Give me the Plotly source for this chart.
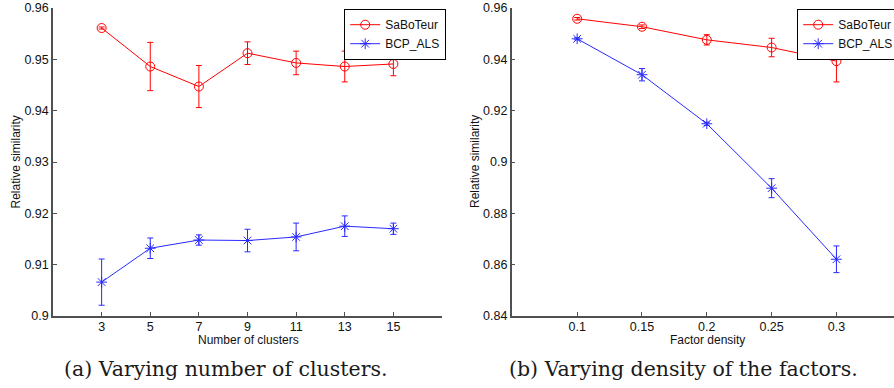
import plotly.graph_objects as go

# ---- data: (a) varying number of clusters ----
clusters = [3, 5, 7, 9, 11, 13, 15]
sab_a = [0.9561, 0.9486, 0.9447, 0.9512, 0.9493, 0.9486, 0.9491]
sab_a_err = [0.0002, 0.0047, 0.0041, 0.0022, 0.0023, 0.0030, 0.0023]
bcp_a = [0.9066, 0.9132, 0.9148, 0.9147, 0.9154, 0.9175, 0.9170]
bcp_a_err = [0.0045, 0.0020, 0.0010, 0.0022, 0.0027, 0.0020, 0.0011]

# ---- data: (b) varying density of the factors ----
density = [0.1, 0.15, 0.2, 0.25, 0.3]
sab_b = [0.9558, 0.9527, 0.9476, 0.9446, 0.9393]
sab_b_err = [0.0005, 0.0007, 0.0020, 0.0036, 0.0081]
bcp_b = [0.9480, 0.9340, 0.9149, 0.8898, 0.8621]
bcp_b_err = [0.0004, 0.0024, 0.0006, 0.0037, 0.0052]

yticks_a = [0.9, 0.91, 0.92, 0.93, 0.94, 0.95, 0.96]
yticks_a_text = ["0.9", "0.91", "0.92", "0.93", "0.94", "0.95", "0.96"]
yticks_b = [0.84, 0.86, 0.88, 0.9, 0.92, 0.94, 0.96]
yticks_b_text = ["0.84", "0.86", "0.88", "0.9", "0.92", "0.94", "0.96"]
xticks_b_text = ["0.1", "0.15", "0.2", "0.25", "0.3"]

RED = "#ff0000"
BLUE = "#2a2aff"
W, H = 894, 388

def px(x):
    return x / W

def py(y):
    return 1 - y / H

fig = go.Figure()

def add_series(x, y, err, color, symbol, name, xa, ya, legend):
    fig.add_trace(go.Scatter(
        x=x, y=y, mode="lines+markers", name=name,
        xaxis=xa, yaxis=ya, legend=legend, cliponaxis=False,
        line=dict(color=color, width=1),
        marker=dict(symbol=symbol, size=9, color=color, line=dict(color=color, width=1)),
        error_y=dict(type="data", array=err, visible=True, color=color, thickness=1, width=3),
    ))

add_series(clusters, sab_a, sab_a_err, RED, "circle-open", "SaBoTeur", "x", "y", "legend")
add_series(clusters, bcp_a, bcp_a_err, BLUE, "asterisk-open", "BCP_ALS", "x", "y", "legend")
add_series(density, sab_b, sab_b_err, RED, "circle-open", "SaBoTeur", "x2", "y2", "legend2")
add_series(density, bcp_b, bcp_b_err, BLUE, "asterisk-open", "BCP_ALS", "x2", "y2", "legend2")

axis_common = dict(
    showline=True, linecolor="#505050", linewidth=1.5,
    ticks="inside", ticklen=4, tickcolor="#505050", tickwidth=1,
    showgrid=False, zeroline=False,
    tickfont=dict(family="Liberation Sans, Arial, sans-serif", size=12.5, color="#111"),
    mirror=False, automargin=False, ticklabeloverflow="allow",
)

legend_common = dict(
    xref="container", yref="container", xanchor="left", yanchor="top",
    bgcolor="white", bordercolor="black", borderwidth=1.2,
    font=dict(family="Liberation Sans, Arial, sans-serif", size=12, color="#111"),
    tracegroupgap=0, itemwidth=30,
)

ydom = [py(316), py(8)]
fig.update_layout(
    width=W, height=H,
    margin=dict(l=0, r=0, t=0, b=0, autoexpand=False),
    paper_bgcolor="white", plot_bgcolor="white",
    xaxis=dict(domain=[px(53), px(442)], range=[1, 17], tickvals=clusters,
               ticktext=[str(c) for c in clusters], anchor="y",
               ticklabelstandoff=-2, **axis_common),
    yaxis=dict(domain=ydom, range=[0.9, 0.96], tickvals=yticks_a,
               ticktext=yticks_a_text, anchor="x", **axis_common),
    xaxis2=dict(domain=[px(511.7), 1.0], range=[0.0495, 0.3444], tickvals=density,
                ticktext=xticks_b_text, anchor="y2",
                ticklabelstandoff=-2, **axis_common),
    yaxis2=dict(domain=ydom, range=[0.84, 0.96], tickvals=yticks_b,
                ticktext=yticks_b_text, anchor="x2", **axis_common),
    legend=dict(x=px(344), y=py(9), **legend_common),
    legend2=dict(x=px(797), y=py(9), **legend_common),
    showlegend=True,
)

sans = dict(family="Liberation Sans, Arial, sans-serif", size=12, color="#111")
serif = dict(family="DejaVu Serif, serif", size=20.5, color="#1a1a1a")

annots = [
    dict(text="Relative similarity", x=px(15.5), y=py(162), textangle=-90, font=sans),
    dict(text="Relative similarity", x=px(475), y=py(162), textangle=-90, font=sans),
    dict(text="Number of clusters", x=px(248), y=py(340), font=sans),
    dict(text="Factor density", x=px(707), y=py(340), font=sans),
    dict(text="(a) Varying number of clusters.", x=px(226), y=py(369), font=serif),
    dict(text="(b) Varying density of the factors.", x=px(683), y=py(369), font=serif),
]
for a in annots:
    fig.add_annotation(xref="paper", yref="paper", showarrow=False,
                       xanchor="center", yanchor="middle", **a)

fig.write_html(
    "out.html",
    config={"displayModeBar": False},
    post_script="document.body.style.margin='0';document.body.style.padding='0';",
)
